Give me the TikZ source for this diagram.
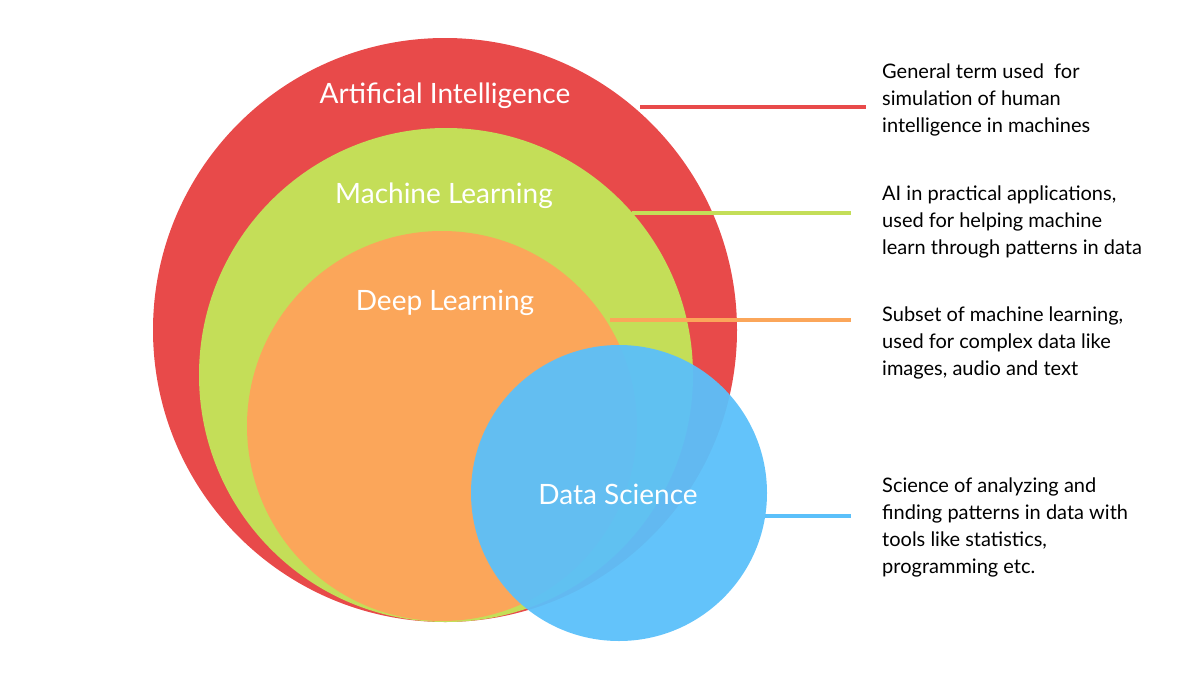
\documentclass[tikz,border=0pt]{standalone}
\usepackage{fontspec}
\setmainfont{Lato}
\definecolor{cred}{HTML}{E84A4A}
\definecolor{cgreen}{HTML}{C4DE58}
\definecolor{corange}{HTML}{FBA65A}
\definecolor{cblue}{HTML}{5BC0FA}
\begin{document}
\begin{tikzpicture}[x=1pt,y=-1pt,
  lab/.style={text=white,font=\fontsize{28}{32}\selectfont},
  desc/.style={anchor=north west,align=left,font=\fontsize{20}{27}\selectfont,inner sep=0pt},
  lnk/.style={line width=3.5pt}]
\useasboundingbox (0,0) rectangle (1200,675);
\fill[cred] (445,330) circle (292);
\fill[cgreen] (446,375) circle (247);
\fill[corange] (442,426) circle (195);
\fill[cblue,opacity=0.95] (619,493) circle (148);
\node[lab] (ai) at (445,96) {Artificial Intelligence};
\node[lab] (ml) at (444,196) {Machine Learning};
\node[lab] (dl) at (445,303) {Deep Learning};
\node[lab] (ds) at (618,494) {Data Science};
\coordinate (a1) at (640,107); \coordinate (a2) at (866,107);
\coordinate (m1) at (632,213); \coordinate (m2) at (851,213);
\coordinate (d1) at (610,320); \coordinate (d2) at (851,320);
\coordinate (s1) at (765,516); \coordinate (s2) at (851,516);
\draw[lnk,cred] (a1) -- (a2);
\draw[lnk,cgreen] (m1) -- (m2);
\draw[lnk,corange] (d1) -- (d2);
\draw[lnk,cblue] (s1) -- (s2);
\node[desc] (t1) at (882,64) {General term used\ \ for\\simulation of human\\intelligence in machines};
\node[desc] (t2) at (882,186) {AI in practical applications,\\used for helping machine\\learn through patterns in data};
\node[desc] (t3) at (882,307) {Subset of machine learning,\\used for complex data like\\images, audio and text};
\node[desc] (t4) at (882,478) {Science of analyzing and\\finding patterns in data with\\tools like statistics,\\programming etc.};
\end{tikzpicture}
\end{document}
